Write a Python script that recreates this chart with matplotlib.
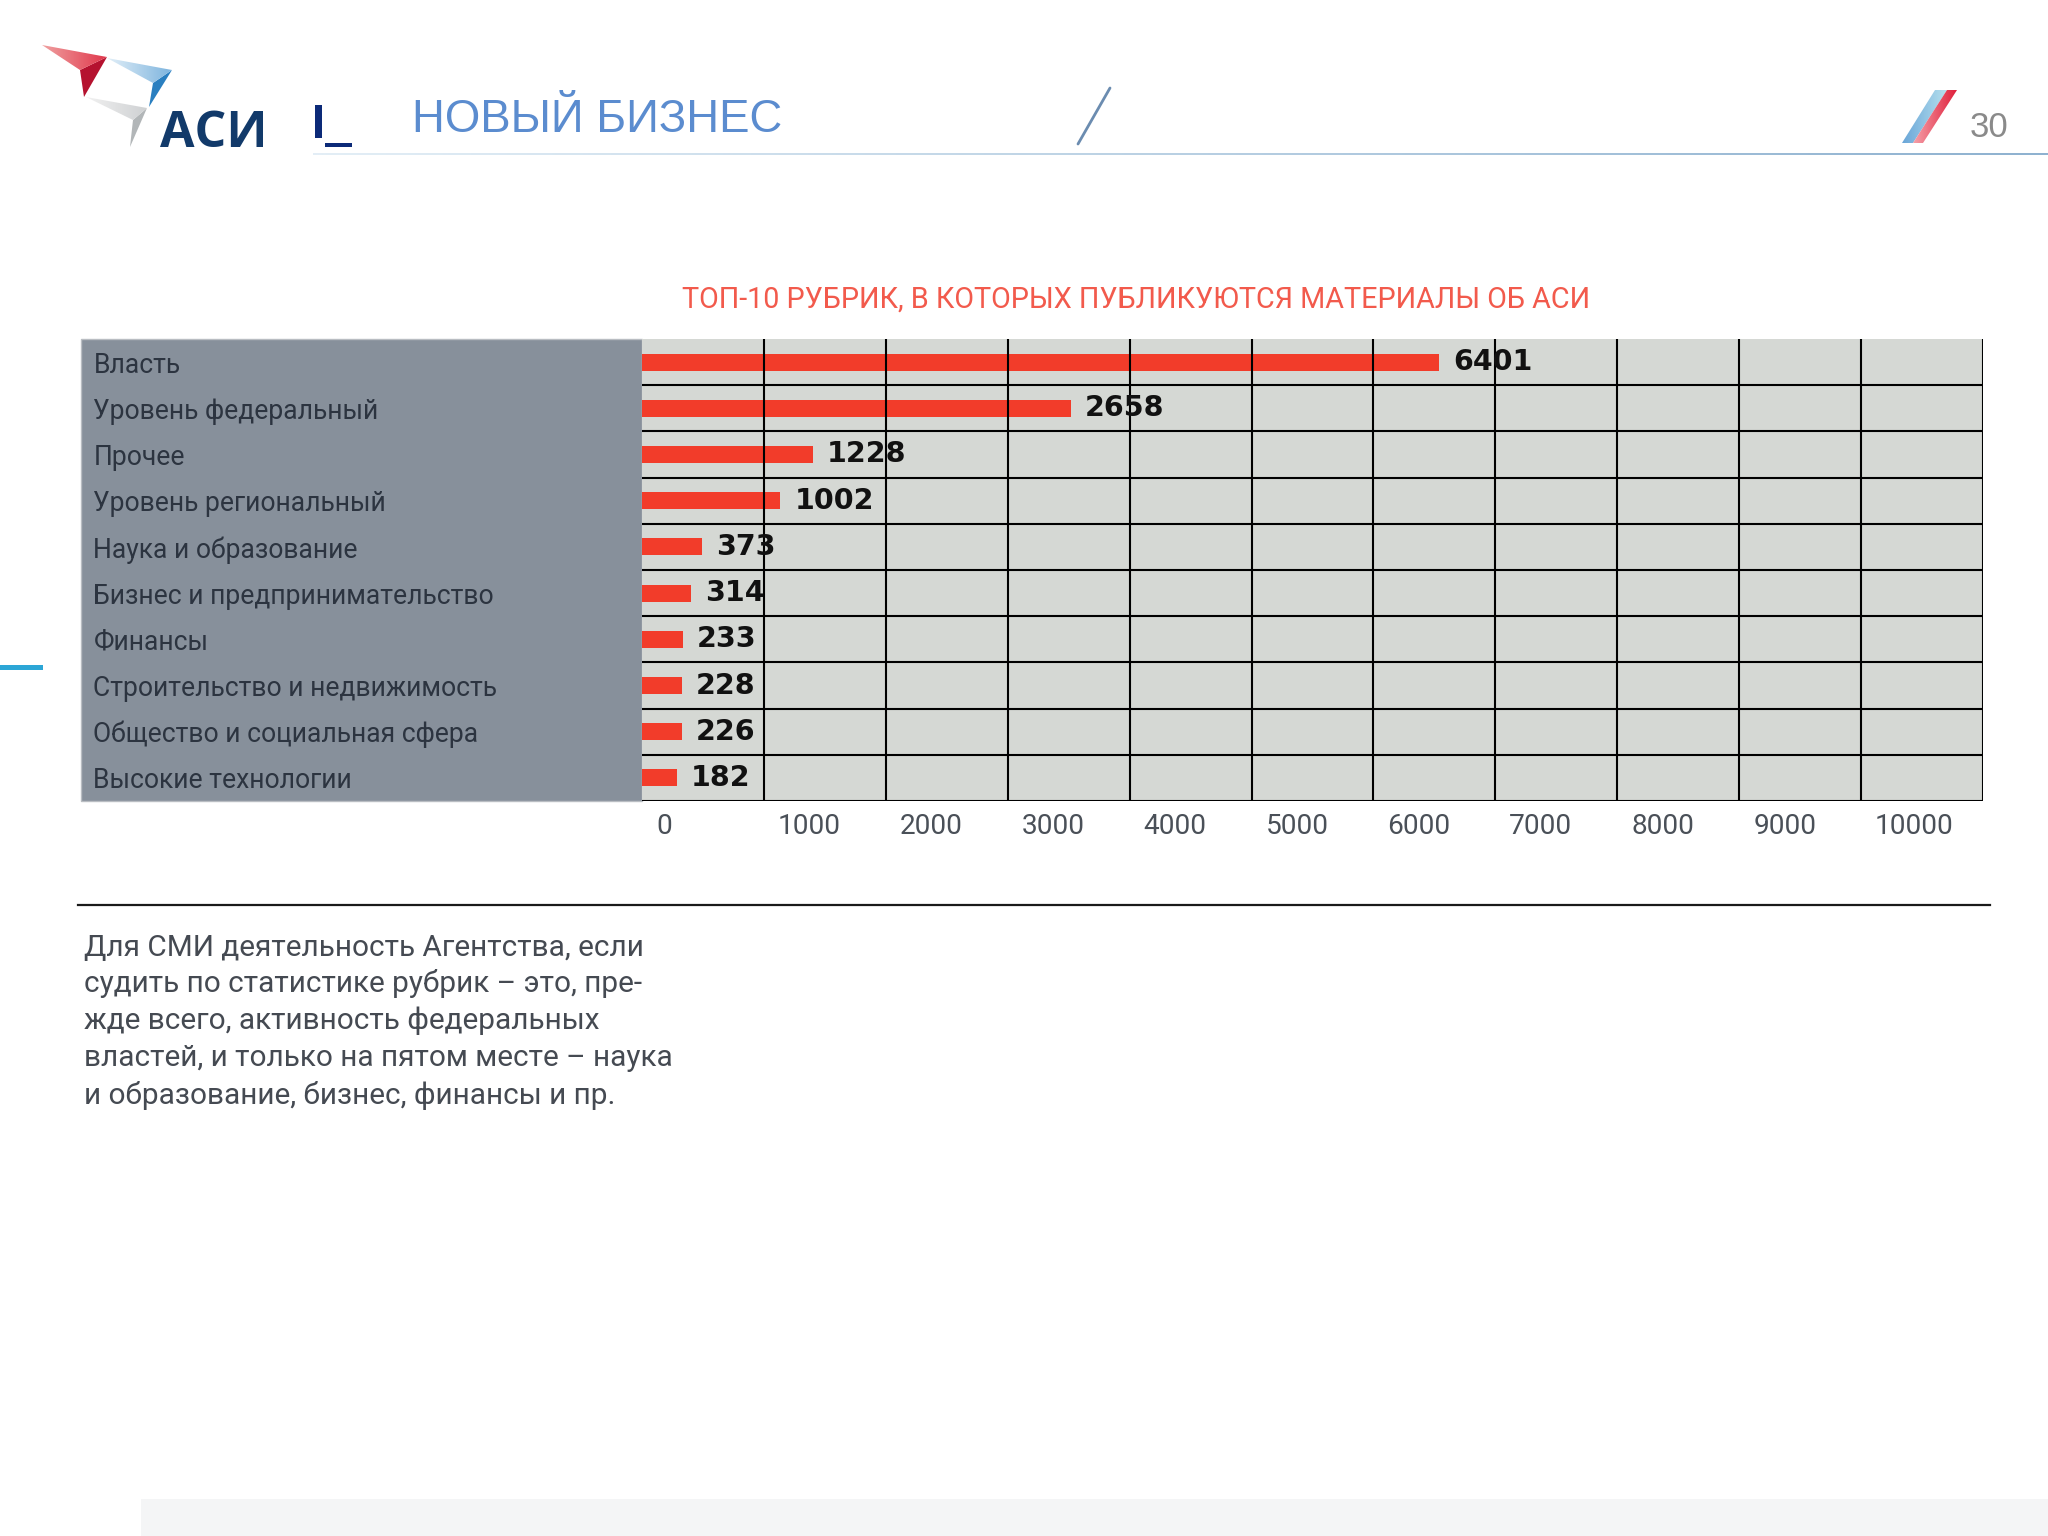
import numpy as np
import matplotlib
matplotlib.use("Agg")
import matplotlib.pyplot as plt
from matplotlib.patches import Polygon, Rectangle
from matplotlib.transforms import ScaledTranslation

categories = ["Власть", "Уровень федеральный", "Прочее", "Уровень региональный",
              "Наука и образование", "Бизнес и предпринимательство", "Финансы",
              "Строительство и недвижимость", "Общество и социальная сфера",
              "Высокие технологии"]
printed_values = [6401, 2658, 1228, 1002, 373, 314, 233, 228, 226, 182]
# the bars in the source do not follow their printed numbers, so lengths are read off the grid
bar_lengths = [6540, 3520, 1400, 1135, 495, 400, 335, 325, 325, 285]
x_ticks = [0, 1000, 2000, 3000, 4000, 5000, 6000, 7000, 8000, 9000, 10000]

title = "ТОП-10 РУБРИК, В КОТОРЫХ ПУБЛИКУЮТСЯ МАТЕРИАЛЫ ОБ АСИ"
body_lines = ["Для СМИ деятельность Агентства, если",
              "судить по статистике рубрик – это, пре-",
              "жде всего, активность федеральных",
              "властей, и только на пятом месте – наука",
              "и образование, бизнес, финансы и пр."]

W, H = 2048, 1536
THIN = "Roboto"

fig = plt.figure(figsize=(W / 100, H / 100), dpi=100, facecolor="white")

# page furniture, in pixel coordinates
bg = fig.add_axes([0, 0, 1, 1], zorder=0)
bg.set_xlim(0, W)
bg.set_ylim(H, 0)
bg.axis("off")


def gradient_poly(pts, c0, c1, horizontal=True):
    """Polygon filled with a two colour gradient."""
    pts = np.array(pts, dtype=float)
    c0, c1 = np.array(matplotlib.colors.to_rgb(c0)), np.array(matplotlib.colors.to_rgb(c1))
    t = np.linspace(0, 1, 64)
    t = t[None, :] if horizontal else t[:, None]
    img = c0 + (c1 - c0) * t[..., None]
    im = bg.imshow(img, extent=(pts[:, 0].min(), pts[:, 0].max(), pts[:, 1].max(), pts[:, 1].min()),
                   aspect="auto", zorder=2)
    im.set_clip_path(Polygon(pts, transform=bg.transData))


# logo
gradient_poly([(42, 45), (107, 57), (80, 70)], "#f0a0a0", "#e0384c")
bg.add_patch(Polygon([(107, 57), (84, 97), (80, 70)], color="#b5122f", lw=0))
gradient_poly([(107, 58), (172, 70), (153, 83)], "#e2eff8", "#7db4de")
bg.add_patch(Polygon([(172, 70), (149, 107), (153, 83)], color="#2a7fc0", lw=0))
gradient_poly([(86, 97), (147, 108), (133, 120)], "#f1f1f1", "#cfd1d3")
bg.add_patch(Polygon([(147, 108), (130, 147), (133, 120)], color="#b2b6b8", lw=0))
bg.text(160, 147, "АСИ", family="Open Sans", weight="bold", fontsize=36, color="#123a6a",
        va="baseline", ha="left")

# header
bg.add_patch(Rectangle((315, 105), 7, 33, color="#0c2a78", lw=0))
bg.add_patch(Rectangle((325, 143), 27, 4, color="#0c2a78", lw=0))
bg.text(412, 132, "НОВЫЙ БИЗНЕС", family="Liberation Sans", fontsize=32.8, color="#5b8ccf",
        va="baseline", ha="left")
bg.plot([1078, 1110], [144, 88], color="#6b8cb0", lw=2, solid_capstyle="round")
gradient_poly([(313, 152.5), (2048, 152.5), (2048, 155.5), (313, 155.5)], "#e3eef6", "#8fb2d0")
gradient_poly([(1935, 90), (1947, 90), (1913, 143), (1902, 143)], "#6aa6d8", "#b5e0ee")
gradient_poly([(1947, 90), (1957, 90), (1923, 143), (1913, 143)], "#f5a0a8", "#e0203c")
bg.text(1970, 137, "30", family="Liberation Sans", fontsize=25, color="#8a8a8a", va="baseline", ha="left")

# stray page marks
bg.add_patch(Rectangle((0, 665), 43, 5, color="#2ca6d6", lw=0))
bg.add_patch(Rectangle((141, 1499), W - 141, H - 1499, color="#f4f5f6", lw=0))

# grey panel behind the category names
bg.add_patch(Rectangle((81, 339), 642 - 81, 801 - 339, facecolor="#87909b", edgecolor="#b9bdc2", lw=1))

bg.text(1136, 300, title, family=THIN, fontsize=20.7, color="#f25a4c", ha="center", va="center")
bg.plot([78, 1990], [905, 905], color="#1a1a1a", lw=1.6)
for y, line in zip([948, 984, 1021, 1058, 1095], body_lines):
    bg.text(84, y, line, family=THIN, fontsize=21.4, color="#454a52", ha="left", va="center")

# chart
ax = fig.add_axes([642 / W, 1 - 801 / H, (1983 - 642) / W, (801 - 339) / H], zorder=1)
ax.set_facecolor("#d5d8d4")
y = np.arange(len(categories))
bars = ax.barh(y, bar_lengths, height=0.37, color="#f23c2a", zorder=2)
ax.bar_label(bars, labels=[str(v) for v in printed_values], padding=10, fontsize=20.5, weight="bold",
             family="DejaVu Sans", color="#111111", zorder=4)

ax.set_xlim(0, 11000)
ax.set_ylim(len(categories) - 0.5, -0.5)
ax.set_yticks(y, categories, family=THIN, fontsize=19.1, color="#2c3440", ha="left")
ax.set_xticks(x_ticks, [str(v) for v in x_ticks], family=THIN, fontsize=20.2, color="#4a5058", ha="left")
ax.tick_params(axis="y", length=0, pad=395)
ax.tick_params(axis="x", length=0, pad=9)
shift = ScaledTranslation(14 / 100, 0, fig.dpi_scale_trans)
for lab in ax.get_xticklabels():
    lab.set_transform(lab.get_transform() + shift)

for v in np.arange(1000, 11001, 1000):
    ax.axvline(v, color="black", lw=1.5, zorder=3)
for b in np.arange(0.5, len(categories), 1):
    ax.axhline(b, color="black", lw=1.5, zorder=3)
for side in ["top", "left", "right", "bottom"]:
    ax.spines[side].set_visible(False)

fig.savefig("out.png", dpi=100)
plt.close(fig)
